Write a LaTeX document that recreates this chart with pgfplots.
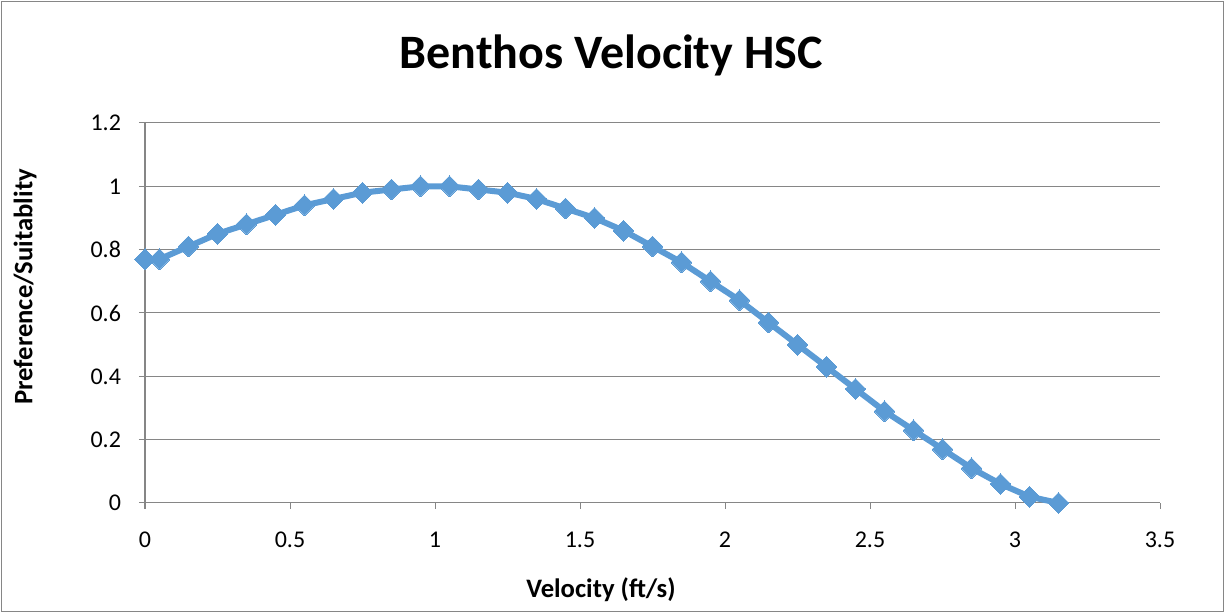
\documentclass[border=0pt]{standalone}
\usepackage{pgfplots}
\pgfplotsset{compat=1.18}
\usepackage{fontspec}
\setmainfont{Carlito}
\definecolor{ser}{RGB}{91,155,213}
\definecolor{gridc}{RGB}{134,134,134}
\begin{document}
\begin{tikzpicture}[x=0.75pt,y=0.75pt]
\useasboundingbox (0,0) rectangle (1225,613);
\draw[color={rgb,255:red,134;green,134;blue,134}, line width=0.75pt] (1.5,1.5) rectangle (1223.5,611.5);
\begin{axis}[
  at={(145*0.75pt,110*0.75pt)}, anchor=south west,
  scale only axis, width=1015*0.75pt, height=380*0.75pt,
  xmin=0, xmax=3.5, ymin=0, ymax=1.2,
  xtick={0,0.5,...,3.5}, ytick={0,0.2,...,1.2},
  axis x line*=bottom, axis y line*=left,
  axis line style={-, color=gridc, line width=0.75pt},
  ymajorgrids, grid style={color=gridc, line width=0.75pt},
  tick align=outside, major tick length=6*0.75pt,
  tick style={color=gridc, line width=0.75pt},
  ticklabel style={font=\fontsize{18}{21}\selectfont, color=black},
  /pgf/number format/assume math mode=true,
  xticklabel shift=14pt, yticklabel shift=10pt,
  clip=false,
]
\addplot[color=ser, line width=4.5pt, mark=square*, mark size=5.5pt, mark options={rotate=45, fill=ser, draw=ser, line width=0pt}] coordinates {
(0,0.77) (0.05,0.77) (0.15,0.81) (0.25,0.85) (0.35,0.88) (0.45,0.91) (0.55,0.94) (0.65,0.96) (0.75,0.98) (0.85,0.99) (0.95,1.0) (1.05,1.0) (1.15,0.99) (1.25,0.98) (1.35,0.96) (1.45,0.93) (1.55,0.90) (1.65,0.86) (1.75,0.81) (1.85,0.76) (1.95,0.70) (2.05,0.64) (2.15,0.57) (2.25,0.50) (2.35,0.43) (2.45,0.36) (2.55,0.29) (2.65,0.23) (2.75,0.17) (2.85,0.11) (2.95,0.06) (3.05,0.02) (3.15,0.0)
};
\end{axis}
\node[font=\fontsize{36}{41}\selectfont\bfseries] at (611,558) {Benthos Velocity HSC};
\node[font=\fontsize{20}{24}\selectfont\bfseries] at (601,23) {Velocity (ft/s)};
\node[font=\fontsize{20}{24}\selectfont\bfseries, rotate=90] at (25,326) {Preference/Suitablity};
\end{tikzpicture}
\end{document}
